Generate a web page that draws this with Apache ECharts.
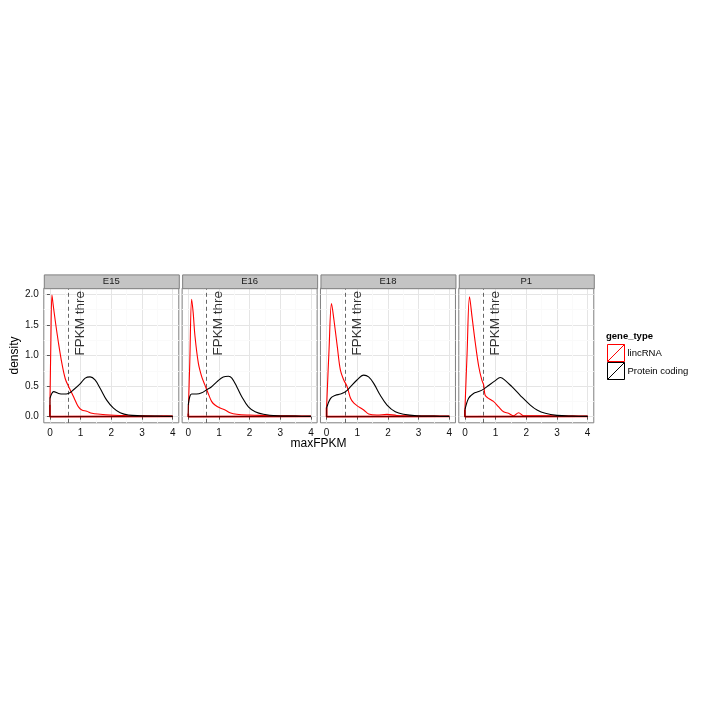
<!DOCTYPE html>
<html><head><meta charset="utf-8">
<script src="https://cdn.jsdelivr.net/npm/echarts@6/dist/echarts.min.js"></script>
<style>html,body{margin:0;padding:0;background:#fff}#c{width:720px;height:720px}</style>
</head><body><div id="c"></div>
<script>
// ---- data ----
const panels = ['E15', 'E16', 'E18', 'P1'];
const geneTypes = ['lincRNA', 'Protein coding'];
const threshold = 0.6;
const thresholdLabel = 'FPKM thre';
const thresholdLabelY = 1.0;
const xTicks = [0, 1, 2, 3, 4];
const yTicks = [0, 0.5, 1, 1.5, 2];
const yTickLabels = ['0.0', '0.5', '1.0', '1.5', '2.0'];
const xMinor = [0.5, 1.5, 2.5, 3.5];
const yMinor = [0.25, 0.75, 1.25, 1.75];

const e15Linc = [[0,0.2],[0.03,1.2],[0.065,1.99],[0.1,1.85],[0.17,1.58],[0.28,1.2],[0.39,0.87],[0.5,0.62],[0.61,0.49],[0.72,0.38],[0.82,0.27],[0.93,0.16],[1.04,0.11],[1.2,0.09],[1.37,0.055],[1.64,0.04],[1.96,0.027],[2.3,0.02],[2.7,0.015],[3.1,0.015],[3.5,0.008],[3.8,0.01],[4.0,0.005]];
const e15Prot = [[0,0.3],[0.06,0.38],[0.12,0.41],[0.28,0.38],[0.44,0.37],[0.6,0.38],[0.77,0.44],[0.99,0.54],[1.15,0.63],[1.31,0.65],[1.47,0.6],[1.64,0.46],[1.85,0.27],[2.07,0.14],[2.29,0.065],[2.56,0.027],[2.94,0.016],[3.5,0.01],[4.0,0.005]];
const e16Linc = [[0,0.05],[0.05,0.9],[0.11,1.92],[0.16,1.7],[0.22,1.31],[0.33,0.87],[0.44,0.65],[0.54,0.52],[0.65,0.38],[0.76,0.25],[0.87,0.19],[1.04,0.14],[1.2,0.11],[1.36,0.065],[1.58,0.04],[2.0,0.027],[2.5,0.02],[3.0,0.015],[3.5,0.01],[4.0,0.005]];
const e16Prot = [[0,0.19],[0.05,0.33],[0.11,0.37],[0.27,0.37],[0.44,0.39],[0.6,0.44],[0.76,0.49],[0.93,0.57],[1.14,0.65],[1.31,0.66],[1.42,0.63],[1.58,0.49],[1.74,0.33],[1.96,0.16],[2.18,0.08],[2.45,0.04],[2.89,0.016],[3.5,0.01],[4.0,0.005]];
const e18Linc = [[0,0.15],[0.08,1.1],[0.16,1.85],[0.24,1.58],[0.35,1.14],[0.45,0.76],[0.56,0.6],[0.67,0.49],[0.78,0.3],[0.89,0.22],[1.05,0.16],[1.21,0.11],[1.37,0.044],[1.64,0.027],[1.97,0.038],[2.29,0.02],[3.0,0.012],[3.5,0.01],[4.0,0.005]];
const e18Prot = [[0,0.14],[0.13,0.3],[0.29,0.35],[0.45,0.37],[0.62,0.41],[0.78,0.49],[0.99,0.6],[1.21,0.68],[1.37,0.65],[1.54,0.54],[1.75,0.35],[1.97,0.19],[2.24,0.08],[2.51,0.04],[2.94,0.016],[3.5,0.01],[4.0,0.005]];
const p1Linc = [[0,0.11],[0.07,1.03],[0.15,1.96],[0.23,1.64],[0.34,1.2],[0.45,0.82],[0.55,0.6],[0.61,0.52],[0.66,0.35],[0.77,0.3],[0.93,0.25],[1.1,0.16],[1.26,0.08],[1.42,0.055],[1.59,0.016],[1.75,0.065],[1.91,0.016],[2.24,0.016],[3.0,0.012],[3.5,0.01],[4.0,0.005]];
const p1Prot = [[0,0.11],[0.12,0.3],[0.28,0.38],[0.45,0.41],[0.61,0.45],[0.77,0.51],[0.99,0.59],[1.15,0.64],[1.32,0.59],[1.53,0.49],[1.8,0.35],[2.13,0.19],[2.35,0.11],[2.62,0.055],[3.0,0.022],[3.5,0.01],[4.0,0.005]];

const lincSeries = [e15Linc, e16Linc, e18Linc, p1Linc];
const protSeries = [e15Prot, e16Prot, e18Prot, p1Prot];

// ---- layout / style ----
const FONT = 'Liberation Sans, Arial, Helvetica, sans-serif';
const colors = ['#ff0000', '#000000'];
const gridLeft0 = 43.8, gridStep = 138.33, gridTop = 288.2, gridW = 135, gridH = 134.6;
const stripH = 13.8;

const chart = echarts.init(document.getElementById('c'), null, {renderer: 'canvas'});

const grids = [], xAxes = [], yAxes = [], series = [], graphics = [];
panels.forEach((p, i) => {
  const left = gridLeft0 + gridStep * i;
  grids.push({left: left, top: gridTop, width: gridW, height: gridH, show: true,
    borderColor: '#7f7f7f', borderWidth: 1, backgroundColor: '#fff', containLabel: false});
  xAxes.push({type: 'value', gridIndex: i, min: -0.2, max: 4.2,
    axisLine: {show: false},
    axisTick: {show: true, length: 3, customValues: xTicks, lineStyle: {color: '#555'}},
    axisLabel: {show: true, customValues: xTicks, fontFamily: FONT, fontSize: 10, color: '#111', margin: 5},
    splitLine: {show: true, lineStyle: {color: '#e5e5e5', width: 1}}});
  yAxes.push({type: 'value', gridIndex: i, min: -0.1, max: 2.1,
    axisLine: {show: false},
    axisTick: {show: i === 0, length: 3, customValues: yTicks, lineStyle: {color: '#555'}},
    axisLabel: {show: i === 0, customValues: yTicks, fontFamily: FONT, fontSize: 10, color: '#111', margin: 5,
      formatter: v => yTickLabels[yTicks.indexOf(v)] !== undefined ? yTickLabels[yTicks.indexOf(v)] : v.toFixed(1)},
    splitLine: {show: true, lineStyle: {color: '#e5e5e5', width: 1}},
    name: i === 0 ? 'density' : '', nameLocation: 'middle', nameGap: 21, nameRotate: 90,
    nameTextStyle: {fontFamily: FONT, fontSize: 12, color: '#000'}});

  const curves = [lincSeries[i], protSeries[i]];
  curves.forEach((d, k) => {
    const s = {
      type: 'line', name: geneTypes[k], xAxisIndex: i, yAxisIndex: i, data: d,
      smooth: 0.35, showSymbol: false, symbol: 'none', silent: true, z: 3 + k,
      color: colors[k], itemStyle: {color: colors[k]},
      lineStyle: {color: colors[k], width: 1.1}, animation: false
    };
    if (k === 0) {
      s.markLine = {silent: true, symbol: 'none', z: 1, animation: false, label: {show: false},
        lineStyle: {color: '#fafafa', width: 1, type: 'solid'},
        data: xMinor.map(v => ({xAxis: v})).concat(yMinor.map(v => ({yAxis: v})))};
    } else {
      s.markLine = {silent: true, symbol: 'none', z: 2, animation: false, label: {show: false},
        lineStyle: {color: '#555', width: 0.9, type: [4, 3]},
        data: [{xAxis: threshold}]};
    }
    series.push(s);
    const first = d[0], last = d[d.length - 1];
    series.push({
      type: 'line', name: geneTypes[k] + ' outline', xAxisIndex: i, yAxisIndex: i,
      data: [[last[0], last[1]], [last[0], 0], [first[0], 0], [first[0], first[1]]],
      smooth: false, showSymbol: false, symbol: 'none', silent: true, z: 3 + k,
      lineStyle: {color: colors[k], width: k === 0 ? 1.8 : 1.2, opacity: k === 0 ? 1 : 0.6},
      animation: false
    });
  });
  series.push({
    type: 'scatter', name: 'threshold label', xAxisIndex: i, yAxisIndex: i,
    data: [[threshold, thresholdLabelY]], symbolSize: 0, silent: true, z: 6, animation: false,
    label: {show: true, formatter: thresholdLabel, rotate: 90, position: 'inside',
      align: 'left', verticalAlign: 'top', offset: [0, 5],
      fontFamily: FONT, fontSize: 13.5, color: '#000'}
  });

  graphics.push({type: 'rect', left: left, top: gridTop - stripH, z: 10,
    shape: {width: gridW, height: stripH},
    style: {fill: '#c4c4c4', stroke: '#7f7f7f', lineWidth: 1}});
  graphics.push({type: 'text', x: left + gridW / 2, y: gridTop - stripH / 2, z: 11,
    style: {text: p, font: '9.5px ' + FONT, fill: '#1a1a1a', textAlign: 'center', textVerticalAlign: 'middle'}});
});

graphics.push({type: 'text', x: 318.5, y: 444, z: 11,
  style: {text: 'maxFPKM', font: '12px ' + FONT, fill: '#000', textAlign: 'center', textVerticalAlign: 'middle'}});

const keyIcon = 'path://M0,0 L16,0 L16,16 L0,16 Z M0,16 L16,0';

chart.setOption({
  animation: false,
  backgroundColor: '#fff',
  textStyle: {fontFamily: FONT},
  title: {text: 'gene_type', left: 606, top: 331, padding: 0,
    textStyle: {fontFamily: FONT, fontSize: 9.5, fontWeight: 'bold', color: '#000'}},
  legend: {
    orient: 'vertical', left: 607, top: 344, padding: 0, itemGap: 0,
    itemWidth: 17, itemHeight: 17, selectedMode: false,
    textStyle: {fontFamily: FONT, fontSize: 9.5, color: '#000', padding: [0, 0, 0, -2]},
    data: geneTypes.map((g, k) => ({name: g, icon: keyIcon,
      itemStyle: {color: 'rgba(0,0,0,0)', borderColor: colors[k], borderWidth: 1}}))
  },
  grid: grids, xAxis: xAxes, yAxis: yAxes, series: series, graphic: graphics
});
</script>
</body></html>
